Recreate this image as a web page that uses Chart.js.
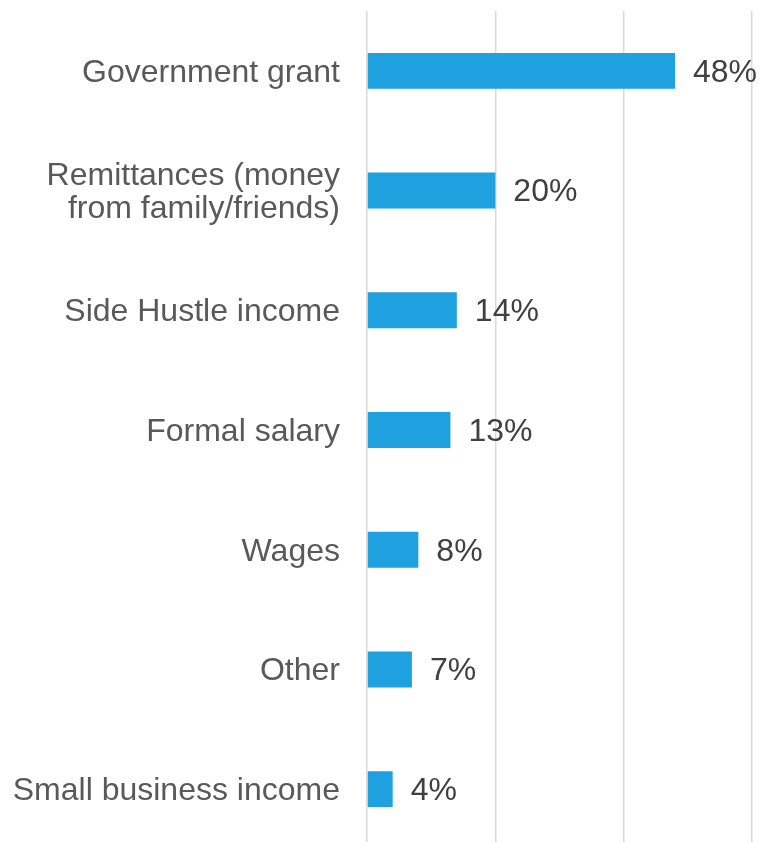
<!DOCTYPE html>
<html>
<head>
<meta charset="utf-8">
<script src="https://cdn.jsdelivr.net/npm/chart.js@4/dist/chart.umd.min.js"></script>
<style>
  html, body { margin: 0; padding: 0; background: #ffffff; overflow: hidden; }
  #wrap { width: 761px; height: 849px; }
</style>
</head>
<body>
<div id="wrap"><canvas id="chart" width="761" height="849"></canvas></div>
<script>
// Income sources (share of respondents, %)
const categories = [
  'Government grant',
  ['Remittances (money', 'from family/friends)'],
  'Side Hustle income',
  'Formal salary',
  'Wages',
  'Other',
  'Small business income'
];
const shares = [48, 20, 14, 13, 8, 7, 4];
const axisTicks = [0, 20, 40, 60];

const FONT = '"Liberation Sans", Arial, sans-serif';

// Draws the percentage next to the end of each bar
const valueLabels = {
  id: 'valueLabels',
  afterDatasetsDraw(chart) {
    const ctx = chart.ctx;
    const meta = chart.getDatasetMeta(0);
    ctx.save();
    ctx.font = '32px ' + FONT;
    ctx.fillStyle = '#404040';
    ctx.textAlign = 'left';
    ctx.textBaseline = 'middle';
    meta.data.forEach((bar, i) => {
      ctx.fillText(shares[i] + '%', bar.x + 18, bar.y + 2);
    });
    ctx.restore();
  }
};

new Chart(document.getElementById('chart'), {
  type: 'bar',
  data: {
    labels: categories,
    datasets: [{
      data: shares,
      backgroundColor: '#1FA0DF',
      borderWidth: 0,
      categoryPercentage: 1.0,
      barPercentage: 0.30
    }]
  },
  options: {
    indexAxis: 'y',
    responsive: false,
    animation: false,
    layout: { padding: { top: 11, right: 9, bottom: 0, left: 0 } },
    plugins: {
      legend: { display: false },
      tooltip: { enabled: false }
    },
    scales: {
      x: {
        min: axisTicks[0],
        max: axisTicks[axisTicks.length - 1],
        afterBuildTicks(scale) {
          scale.ticks = axisTicks.map(v => ({ value: v }));
        },
        afterFit(scale) {
          scale.height = 0;
          scale.paddingLeft = 0;
          scale.paddingRight = 0;
        },
        ticks: { display: false },
        border: { display: false },
        grid: { color: '#D9D9D9', lineWidth: 1.5, drawTicks: false }
      },
      y: {
        afterFit(scale) {
          scale.width = 367;
          scale.paddingTop = 0;
          scale.paddingBottom = 0;
        },
        ticks: {
          color: '#595959',
          font: { family: FONT, size: 32, lineHeight: 1.05 },
          padding: 27,
          labelOffset: 2
        },
        border: { display: false },
        grid: { display: false, drawTicks: false }
      }
    }
  },
  plugins: [valueLabels]
});
</script>
</body>
</html>
